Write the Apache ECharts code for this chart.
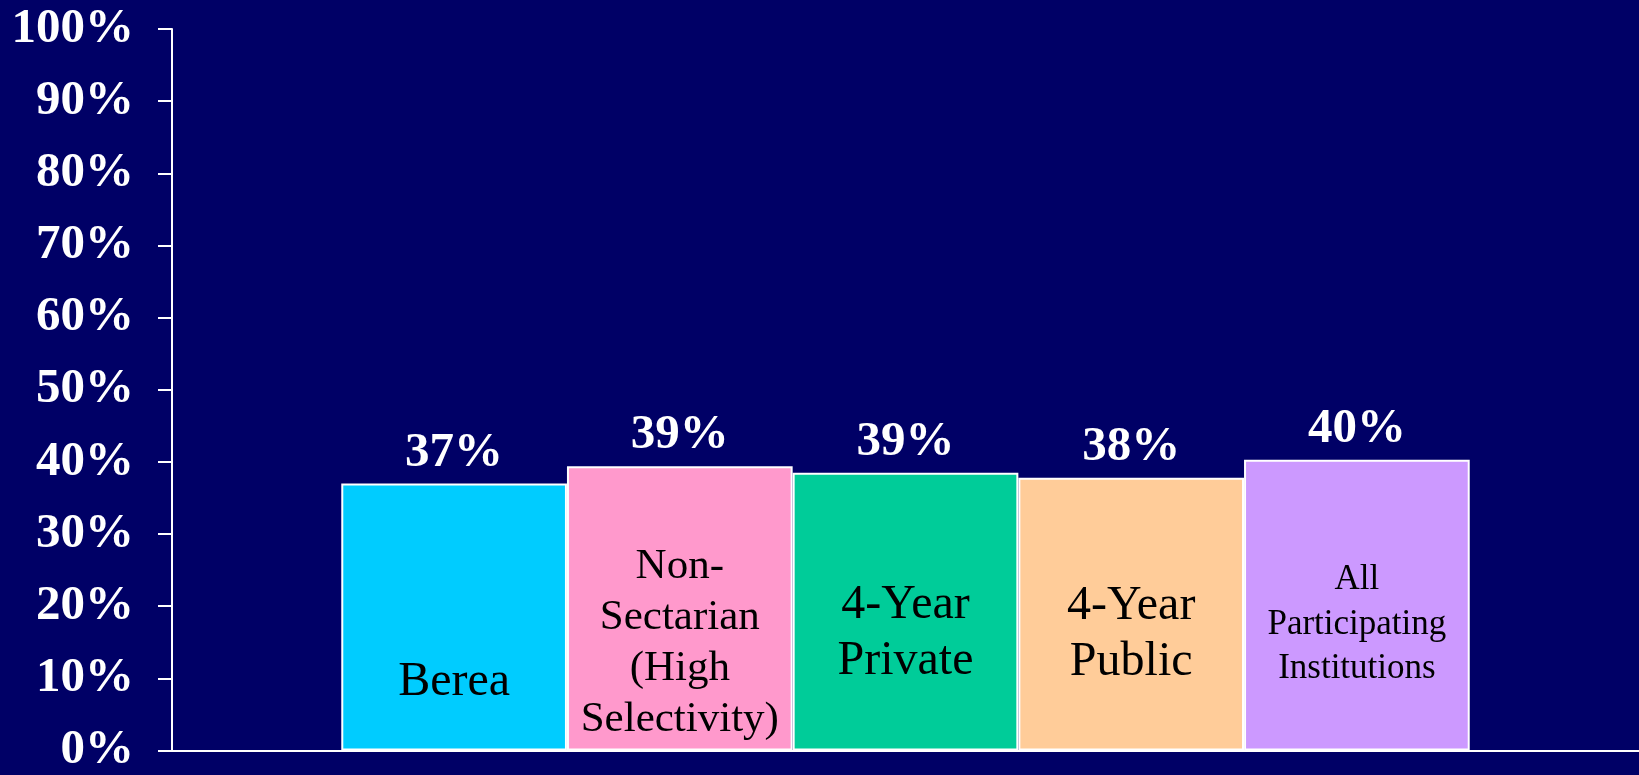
<!DOCTYPE html>
<html>
<head>
<meta charset="utf-8">
<script src="https://cdn.jsdelivr.net/npm/echarts@6/dist/echarts.min.js"></script>
<style>
  html, body { margin: 0; padding: 0; background: #000066; }
  #chart { width: 1639px; height: 775px; }
</style>
</head>
<body>
<div id="chart"></div>
<script>
// ---- data ----
const categories = ['Berea', 'Non-\nSectarian\n(High\nSelectivity)', '4-Year\nPrivate', '4-Year\nPublic', 'All\nParticipating\nInstitutions'];
const values = [37.0, 39.4, 38.5, 37.8, 40.3];
const valueLabels = ['37%', '39%', '39%', '38%', '40%'];
const yMin = 0, yMax = 100, yInterval = 10;

// ---- styles (not data) ----
const barColors = ['#00CCFF', '#FF99CC', '#00CC99', '#FFCC99', '#CC99FF'];
const nameFontSizes = [48, 43, 48, 48, 35];
const nameLineHeights = [55, 51, 56, 56, 44.5];
const nameDistances = [41, 5, 61, 60, 59];
const FONT = "'Liberation Serif', 'Times New Roman', serif";

const chart = echarts.init(document.getElementById('chart'));

const barData = values.map((v, i) => ({
  value: [i, v],
  itemStyle: { color: barColors[i] },
  label: {
    show: true,
    position: 'insideBottom',
    distance: nameDistances[i],
    formatter: categories[i],
    fontFamily: FONT,
    fontSize: nameFontSizes[i],
    lineHeight: nameLineHeights[i],
    color: '#000000',
    align: 'center'
  }
}));

const topData = values.map((v, i) => ({
  value: [i, v],
  label: { formatter: valueLabels[i] }
}));

chart.setOption({
  backgroundColor: '#000066',
  animation: false,
  grid: { left: 172, right: 0, top: 29, bottom: 16, containLabel: false },
  xAxis: {
    type: 'value',
    min: -1.25,
    max: categories.length - 1 + 1.25,
    axisLine: { show: true, onZero: false, lineStyle: { color: '#ffffff', width: 2 } },
    axisTick: { show: false },
    axisLabel: { show: false },
    splitLine: { show: false }
  },
  yAxis: {
    type: 'value',
    min: yMin,
    max: yMax,
    interval: yInterval,
    axisLine: { show: true, onZero: false, lineStyle: { color: '#ffffff', width: 2 } },
    axisTick: { show: true, length: 14, lineStyle: { color: '#ffffff', width: 2 } },
    axisLabel: {
      formatter: '{value}%',
      color: '#ffffff',
      fontFamily: FONT,
      fontWeight: 'bold',
      fontSize: 49,
      margin: 38
    },
    splitLine: { show: false }
  },
  series: [
    {
      type: 'bar',
      data: barData,
      barCategoryGap: '0%',
      barGap: '-100%',
      itemStyle: { borderColor: '#ffffff', borderWidth: 2 }
    },
    {
      type: 'bar',
      data: topData,
      barCategoryGap: '0%',
      barGap: '-100%',
      itemStyle: { color: 'rgba(0,0,0,0)', borderWidth: 0 },
      label: {
        show: true,
        position: 'top',
        distance: 6,
        color: '#ffffff',
        fontFamily: FONT,
        fontWeight: 'bold',
        fontSize: 49
      },
      z: 3
    }
  ]
});
</script>
</body>
</html>
